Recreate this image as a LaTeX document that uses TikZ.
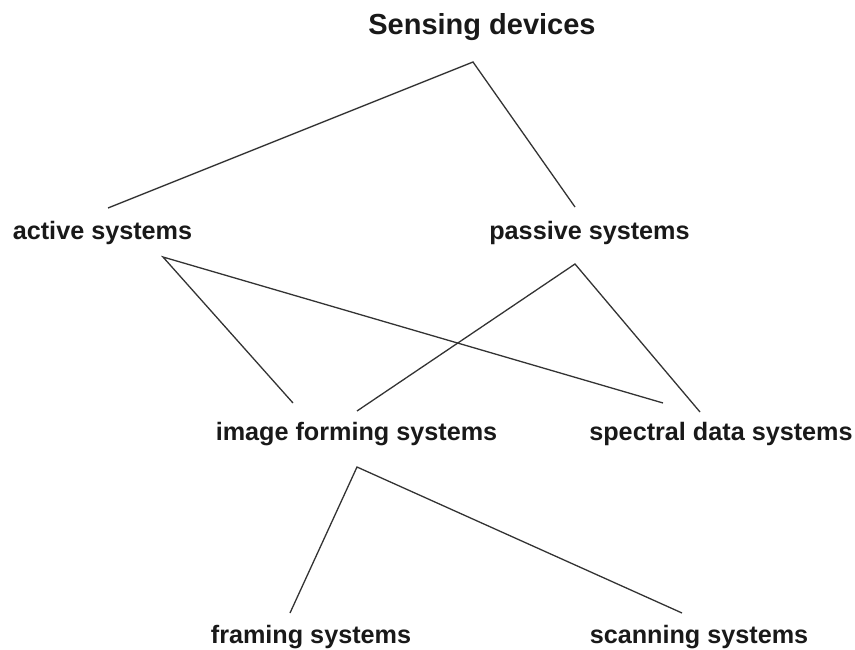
\documentclass[tikz,border=0pt]{standalone}
\usepackage{fontspec}
\setmainfont{Liberation Sans}
\begin{document}
\begin{tikzpicture}[x=1pt,y=-1pt,
  lbl/.style={font=\bfseries\fontsize{25.2}{30}\selectfont, inner sep=0pt, anchor=base, text=black!90},
  ttl/.style={font=\bfseries\fontsize{29}{34}\selectfont, inner sep=0pt, anchor=base, text=black!90},
  link/.style={line width=1.3pt, black!80}]
\useasboundingbox (0,0) rectangle (855,650);
% labels
\node[ttl] (sd) at (482,35) {Sensing devices};
\node[lbl] (act) at (102.5,240) {active systems};
\node[lbl] (pas) at (589.5,240) {passive systems};
\node[lbl] (img) at (356.5,440) {image forming systems};
\node[lbl] (spc) at (721,440) {spectral data systems};
\node[lbl] (frm) at (311,643) {framing systems};
\node[lbl] (scn) at (699,643) {scanning systems};
% connector ends
\coordinate (sdB) at (473,62);
\coordinate (actT) at (108,208);
\coordinate (pasT) at (575,207);
\coordinate (actB) at (163,257);
\coordinate (pasB) at (575,264);
\coordinate (imgT1) at (293,403);
\coordinate (imgT2) at (357,411);
\coordinate (spcT1) at (663,403);
\coordinate (spcT2) at (700,412);
\coordinate (imgB) at (357,467);
\coordinate (frmT) at (290,613);
\coordinate (scnT) at (682,613);
% connectors
\draw[link] (actT) -- (sdB) -- (pasT);
\draw[link] (imgT1) -- (actB) -- (spcT1);
\draw[link] (imgT2) -- (pasB) -- (spcT2);
\draw[link] (frmT) -- (imgB) -- (scnT);
\end{tikzpicture}
\end{document}
